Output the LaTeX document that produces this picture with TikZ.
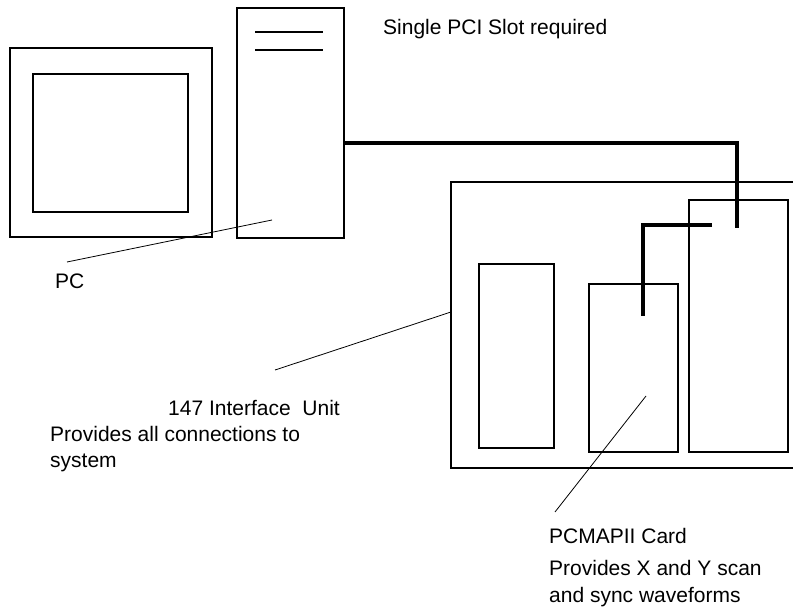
\documentclass[tikz,border=0pt]{standalone}
\usepackage{fontspec}
\setmainfont{Liberation Sans}
\usetikzlibrary{positioning}

\begin{document}
\begin{tikzpicture}[x=1pt,y=-1pt,
    box/.style={draw, line width=1.2pt},
    cable/.style={line width=3.4pt},
    leader/.style={line width=0.8pt},
    note/.style={anchor=base west, inner sep=0pt, font=\fontsize{21}{25}\selectfont}]
\useasboundingbox (0,0) rectangle (793,612);

        % Monitor, outer case and screen
        \draw[box] (10,48) rectangle (212,237);
        \draw[box] (33,74) rectangle (188,212);
        % Tower with two drive slots
        \draw[box] (237,8) rectangle (344,238);
        \foreach \y in {32,50} {
            \draw[box] (255,\y) -- (323,\y);
        }
        % Interface unit, runs off the right edge
        \draw[box] (795,182) -| (451,468) -- (795,468);
        % Cards inside the unit
        \draw[box] (479,264) rectangle (554,448);
        \draw[box] (589,284) rectangle (678,452);
        \draw[box] (689,200) rectangle (788,452);

        % Cable ends
        \coordinate (pcOut) at (344,143);
        \coordinate (unitIn) at (737,228);
        \coordinate (linkA) at (712,225);
        \coordinate (linkB) at (643,316);
        \draw[cable] (pcOut) -| (unitIn);
        \draw[cable] (linkA) -| (linkB);

        % Labels
        \node[note] (slot) at (383,35) {Single PCI Slot required};
        \node[note] (pc) at (55,289) {PC};
        \node[note] (unit) at (168,415) {147 Interface~ Unit};
        \node[note] (unitA) at (50,441) {Provides all connections to};
        \node[note] (unitB) at (50,467) {system};
        \node[note] (card) at (549,543) {PCMAPII Card};
        \node[note] (cardA) at (549,575) {Provides X and Y scan};
        \node[note] (cardB) at (549,602) {and sync waveforms};

        % Leader lines
        \coordinate (pcTip) at (272,220);
        \coordinate (pcEnd) at (67,262);
        \coordinate (unitTip) at (451,312);
        \coordinate (unitEnd) at (275,370);
        \coordinate (cardTip) at (646,396);
        \coordinate (cardEnd) at (555,512);
        \draw[leader] (pcTip) -- (pcEnd);
        \draw[leader] (unitTip) -- (unitEnd);
        \draw[leader] (cardTip) -- (cardEnd);

\end{tikzpicture}
\end{document}
